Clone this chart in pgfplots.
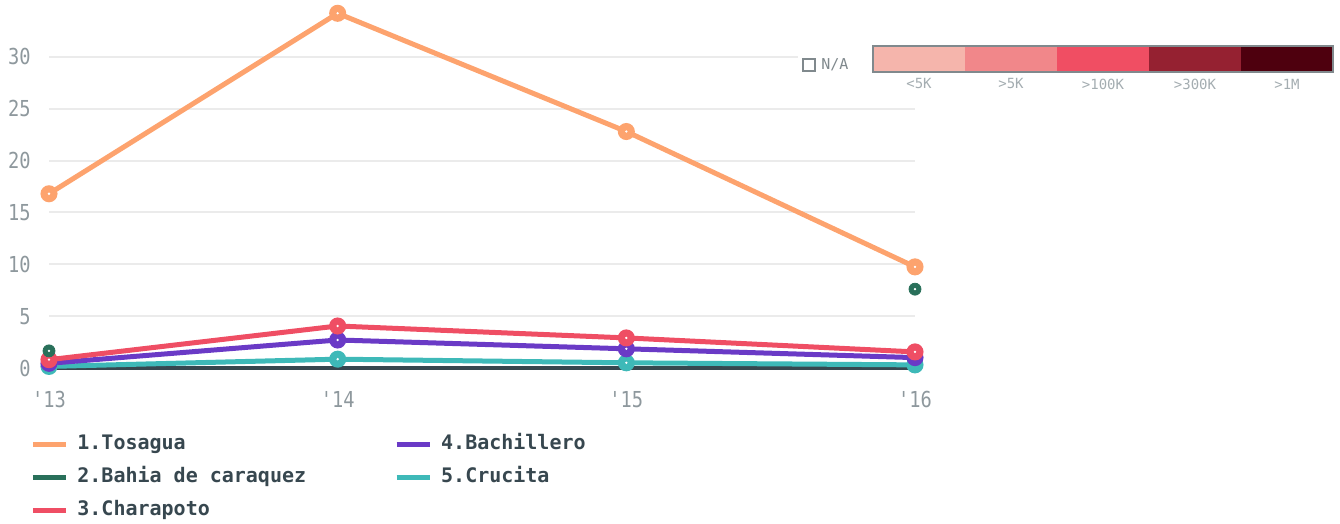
\documentclass[border=0pt]{standalone}
\usepackage{fontspec}
\usepackage{pgfplots}
\pgfplotsset{compat=1.18}
\newfontfamily\tickfont[FakeStretch=0.85,Ligatures=ResetAll]{DejaVu Sans Mono}
\newfontfamily\monofont[Ligatures=ResetAll]{DejaVu Sans Mono}
\definecolor{cTos}{HTML}{FDA36E}
\definecolor{cBah}{HTML}{29705A}
\definecolor{cCha}{HTML}{EF4E64}
\definecolor{cBac}{HTML}{6A3AC6}
\definecolor{cCru}{HTML}{3EB9B8}
\definecolor{cAxis}{HTML}{37474F}
\definecolor{cGrid}{HTML}{EBEBEB}
\definecolor{cTick}{HTML}{8E989D}
\definecolor{cText}{HTML}{37474F}
\definecolor{s1}{HTML}{F5B5AC}
\definecolor{s2}{HTML}{F1878A}
\definecolor{s3}{HTML}{F04E63}
\definecolor{s4}{HTML}{952131}
\definecolor{s5}{HTML}{4E000E}
\begin{document}
\begin{tikzpicture}
\useasboundingbox (0,0) rectangle (670pt,262pt);
\begin{axis}[
  at={(24.5pt,78pt)}, anchor=south west,
  scale only axis, width=433pt, height=181.5pt,
  xmin=2013, xmax=2016, ymin=0, ymax=35,
  clip=false,
  axis x line=bottom, axis y line=left,
  y axis line style={draw=none},
  x axis line style={draw=cAxis, line width=1.6pt, -},
  major tick length=0pt,
  xtick={2013,2014,2015,2016},
  xticklabels={'13,'14,'15,'16},
  ytick={0,5,10,15,20,25,30},
  ymajorgrids, grid style={cGrid, line width=1pt},
  /pgf/number format/assume math mode=true,
  tick label style={font=\tickfont\fontsize{11pt}{13pt}\selectfont, text=cTick, inner sep=0pt},
  xticklabel style={anchor=north, yshift=-11.5pt},
  yticklabel style={anchor=east, xshift=-9pt},
  legend image code/.code={\draw[#1] (0pt,0pt) -- (16.5pt,0pt);},
  legend columns=2,
  legend cell align=left,
  legend style={draw=none, fill=none, inner sep=0pt,
    at={(axis description cs:0,0)}, anchor=north west, xshift=-9.5pt, yshift=-33pt,
    font=\monofont\bfseries\fontsize{10pt}{12pt}\selectfont, text=cText,
    nodes={inner sep=0pt, text height=7.5pt, text depth=2.4pt},
    row sep=6.6pt,
    /tikz/every odd column/.append style={column sep=4.5pt},
    /tikz/every even column/.append style={column sep=44pt}},
]
\addlegendimage{cTos, line width=2.5pt}\addlegendentry{1.Tosagua}
\addlegendimage{cBac, line width=2.5pt}\addlegendentry{4.Bachillero}
\addlegendimage{cBah, line width=2.5pt}\addlegendentry{2.Bahia de caraquez}
\addlegendimage{cCru, line width=2.5pt}\addlegendentry{5.Crucita}
\addlegendimage{cCha, line width=2.5pt}\addlegendentry{3.Charapoto}

\addplot[cCru, line width=2.5pt, mark=*, mark size=3pt, mark options={fill=cCru, draw=cCru}, forget plot]
  coordinates {(2013,0.15) (2014,0.85) (2015,0.5) (2016,0.3)};
\addplot[cBac, line width=2.5pt, mark=*, mark size=3pt, mark options={fill=cBac, draw=cBac}, forget plot]
  coordinates {(2013,0.45) (2014,2.7) (2015,1.85) (2016,1.0)};
\addplot[cCha, line width=2.5pt, mark=*, mark size=3pt, mark options={fill=cCha, draw=cCha}, forget plot]
  coordinates {(2013,0.8) (2014,4.05) (2015,2.9) (2016,1.55)};
\addplot[cBah, only marks, mark=*, mark size=3pt, mark options={fill=cBah, draw=cBah}, forget plot]
  coordinates {(2013,1.65) (2016,7.6)};
\addplot[cTos, line width=2.5pt, mark=*, mark size=3pt, mark options={fill=cTos, draw=cTos}, forget plot]
  coordinates {(2013,16.8) (2014,34.2) (2015,22.8) (2016,9.75)};
% tiny white centres of the markers
\addplot[white, only marks, mark=*, mark size=0.35pt, forget plot]
  coordinates {(2013,16.8) (2014,34.2) (2015,22.8) (2016,9.75)
               (2013,0.8) (2014,4.05) (2015,2.9) (2016,1.55)
               (2014,2.7) (2015,1.85) (2014,0.85) (2015,0.5)
               (2013,1.65) (2016,7.6)};
\end{axis}
\begin{scope}[x=0.5pt,y=0.5pt]
  \fill[white] (798,430) rectangle (1340,490);
  \fill[s1] (873,452) rectangle (965,478);
  \fill[s2] (965,452) rectangle (1057,478);
  \fill[s3] (1057,452) rectangle (1149,478);
  \fill[s4] (1149,452) rectangle (1241,478);
  \fill[s5] (1241,452) rectangle (1333,478);
  \draw[cTick!90!black, line width=0.6pt] (873,452) rectangle (1333,478);
  \draw[cTick!90!black, line width=0.8pt] (803,453) rectangle (815,465);
  \node[anchor=west, inner sep=0pt, font=\monofont\fontsize{7.5pt}{9pt}\selectfont, text=cTick!90!black] at (821,459) {N/A};
  \foreach \x/\t in {919/{<5K},1011/{>5K},1103/{>100K},1195/{>300K},1287/{>1M}}
    \node[inner sep=0pt, font=\monofont\fontsize{7pt}{8pt}\selectfont, text=cTick!80!white] at (\x,440) {\t};
\end{scope}
\end{tikzpicture}
\end{document}
